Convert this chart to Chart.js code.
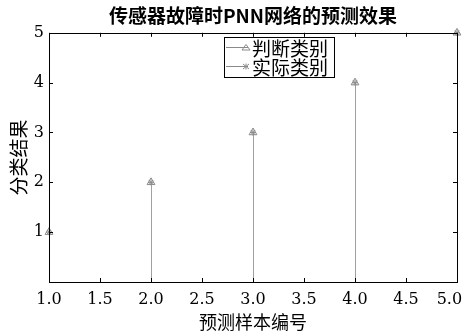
<!DOCTYPE html>
<html><head><meta charset="utf-8">
<script src="https://cdn.jsdelivr.net/npm/chart.js@4/dist/chart.umd.min.js"></script>
<style>html,body{margin:0;padding:0;background:#fff}#wrap{width:465px;height:335px}</style>
</head><body><div id="wrap"><canvas id="c" width="465" height="335"></canvas></div>
<script>
const samples = [1, 2, 3, 4, 5];
const predicted = [1, 2, 3, 4, 5];
const actual = [1, 2, 3, 4, 5];
const seriesNames = ['判断类别', '实际类别'];
const titleText = '传感器故障时PNN网络的预测效果';
const xTitle = '预测样本编号';
const yTitle = '分类结果';

const CJK = '"Noto Sans CJK SC", sans-serif';
const NUM = '"DejaVu Serif", serif';
const GRAY = '#8a8a8a';
const STEM = '#a0a0a0';

const pts = arr => samples.map((x, i) => ({x: x, y: arr[i]}));

const stems = {
  id: 'stems',
  beforeDatasetsDraw(chart) {
    const {ctx, scales: {x, y}} = chart;
    const ds = chart.data.datasets[0];
    ctx.save();
    ctx.strokeStyle = STEM; ctx.lineWidth = 1;
    ctx.beginPath();
    ds.data.forEach(p => {
      const px = Math.round(x.getPixelForValue(p.x)) + 0.5;
      ctx.moveTo(px, y.getPixelForValue(0));
      ctx.lineTo(px, y.getPixelForValue(p.y));
    });
    ctx.stroke();
    ctx.restore();
  }
};

const frame = {
  id: 'frame',
  afterDraw(chart) {
    const {ctx, chartArea: a, scales: {x, y}} = chart;
    ctx.save();
    ctx.strokeStyle = '#000'; ctx.lineWidth = 1;
    ctx.strokeRect(Math.round(a.left) + 0.5, Math.round(a.top) + 0.5, Math.round(a.right - a.left), Math.round(a.bottom - a.top));
    ctx.beginPath();
    x.ticks.forEach(t => {
      const px = Math.round(x.getPixelForValue(t.value)) + 0.5;
      ctx.moveTo(px, a.bottom); ctx.lineTo(px, a.bottom - 4);
      ctx.moveTo(px, a.top); ctx.lineTo(px, a.top + 4);
    });
    y.ticks.forEach(t => {
      const py = Math.round(y.getPixelForValue(t.value)) + 0.5;
      ctx.moveTo(a.left, py); ctx.lineTo(a.left + 4, py);
      ctx.moveTo(a.right, py); ctx.lineTo(a.right - 4, py);
    });
    ctx.stroke();
    // legend
    const bx = 224, by = 37, bw = 110, bh = 40;
    ctx.fillStyle = '#fff';
    ctx.fillRect(bx, by, bw, bh);
    ctx.strokeStyle = '#000';
    ctx.strokeRect(bx + 0.5, by + 0.5, bw, bh);
    ctx.font = '19px ' + CJK;
    ctx.textBaseline = 'middle';
    ctx.textAlign = 'left';
    const rows = [by + 10.5, by + 29.5];
    rows.forEach((ry, i) => {
      ctx.strokeStyle = GRAY;
      ctx.beginPath(); ctx.moveTo(bx + 2, ry); ctx.lineTo(bx + 24, ry); ctx.stroke();
      if (i === 0) {
        ctx.beginPath(); ctx.moveTo(bx + 22, ry - 3); ctx.lineTo(bx + 26, ry + 2.5); ctx.lineTo(bx + 18, ry + 2.5); ctx.closePath(); ctx.stroke();
      } else {
        ctx.beginPath();
        ctx.moveTo(bx + 19, ry - 2.5); ctx.lineTo(bx + 25, ry + 2.5);
        ctx.moveTo(bx + 25, ry - 2.5); ctx.lineTo(bx + 19, ry + 2.5);
        ctx.moveTo(bx + 22, ry - 3); ctx.lineTo(bx + 22, ry + 3);
        ctx.stroke();
      }
      ctx.fillStyle = '#000';
      ctx.fillText(seriesNames[i], bx + 28, ry + 1);
    });
    ctx.restore();
  }
};

new Chart(document.getElementById('c'), {
  type: 'scatter',
  data: {
    datasets: [
      {label: seriesNames[0], data: pts(predicted), pointStyle: 'triangle', pointRadius: 4.5, borderColor: GRAY, backgroundColor: 'rgba(255,255,255,0)', borderWidth: 1, clip: false, order: 1},
      {label: seriesNames[1], data: pts(actual), pointStyle: 'star', pointRadius: 3, borderColor: GRAY, backgroundColor: GRAY, borderWidth: 1, clip: false, order: 2}
    ]
  },
  options: {
    responsive: false, animation: false,
    layout: {padding: {left: 0, right: 8, top: 0, bottom: 0}},
    plugins: {
      legend: {display: false}, tooltip: {enabled: false},
      title: {display: true, fullSize: false, text: titleText, color: '#000', font: {family: CJK, size: 19, weight: 'bold'}, padding: {top: 4, bottom: 6}}
    },
    scales: {
      x: {
        type: 'linear', min: 1, max: 5, offset: false,
        grid: {display: false, drawTicks: false}, border: {display: false},
        ticks: {stepSize: 0.5, color: '#000', font: {family: NUM, size: 16}, padding: 8, callback: v => v === 5 ? v.toFixed(1) + '   ' : v.toFixed(1), maxRotation: 0, autoSkip: false},
        title: {display: true, text: xTitle, color: '#000', font: {family: CJK, size: 18}, padding: {top: 0, bottom: 2}},
        afterFit: s => { s.height = 53; s.paddingLeft = 0; s.paddingRight = 0; }
      },
      y: {
        type: 'linear', min: 0, max: 5,
        grid: {display: false, drawTicks: false}, border: {display: false},
        ticks: {stepSize: 1, color: '#000', font: {family: NUM, size: 16}, padding: 5, callback: v => v === 0 ? '' : String(v)},
        title: {display: true, text: yTitle, color: '#000', font: {family: CJK, size: 19}, padding: {top: 7, bottom: 2}},
        afterFit: s => { s.width = 49; s.paddingTop = 0; s.paddingBottom = 0; }
      }
    }
  },
  plugins: [stems, frame]
});
</script></body></html>
